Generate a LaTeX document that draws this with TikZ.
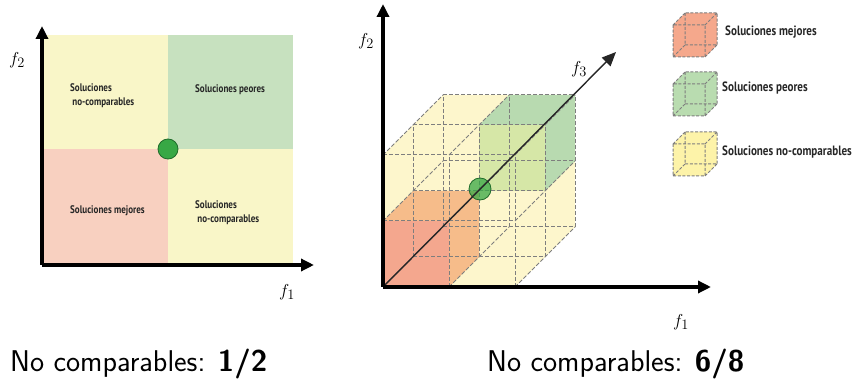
\documentclass[tikz,border=0pt]{standalone}
\usepackage{fontspec}
\newfontfamily\labfont{PT Sans}[FakeStretch=0.82]
\usetikzlibrary{arrows.meta}
\definecolor{cyel}{HTML}{F9F6C8}
\definecolor{cgreen}{HTML}{C7E1BF}
\definecolor{cpink}{HTML}{F8D0C0}
\definecolor{dotfill}{HTML}{38A845}
\definecolor{dotline}{HTML}{1F6B2A}
\definecolor{ryel}{HTML}{FDF6CC}
\definecolor{rred}{HTML}{F4A78E}
\definecolor{rorange}{HTML}{F6BC8A}
\definecolor{rgreen}{HTML}{B8DAB0}
\definecolor{rgreenf}{HTML}{D6E7A7}
\definecolor{gridc}{HTML}{7E7E7E}
\definecolor{lyel}{HTML}{FDF3A9}
\definecolor{lred}{HTML}{F5A88C}
\definecolor{lgreen}{HTML}{B9DCB0}
\definecolor{txt}{HTML}{262626}
\begin{document}
\begin{tikzpicture}[x=1pt,y=-1pt,
  axis/.style={line width=3.6pt,-{Triangle[length=13pt,width=12pt]}},
  thinaxis/.style={line width=1.4pt,draw=black!85,-{Triangle[length=14pt,width=12pt]}},
  grid3/.style={draw=gridc,line width=1pt,dash pattern=on 4pt off 2pt},
  dotstyle/.style={circle,fill=dotfill,draw=dotline,line width=0.8pt,minimum size=20pt,inner sep=0pt},
  flab/.style={font=\fontsize{19}{19}\selectfont,inner sep=0pt},
  qlab/.style={font=\labfont\bfseries\fontsize{11}{14}\selectfont,text=txt,align=left,inner sep=0pt,anchor=west},
  leglab/.style={font=\labfont\bfseries\fontsize{13.5}{15}\selectfont,text=txt,inner sep=0pt,anchor=west},
  bottom/.style={font=\sffamily\fontsize{30}{30}\selectfont,inner sep=0pt,anchor=base west},
  legcube/.pic={
    \fill[#1] (0,12) -- (12,0) -- (44,0) -- (44,32) -- (32,44) -- (0,44) -- cycle;
    \draw[grid3,line width=1pt,dash pattern=on 3pt off 1.6pt]
      (0,12) rectangle (32,44)
      (12,0) rectangle (44,32)
      (0,12) -- (12,0) (32,12) -- (44,0) (32,44) -- (44,32) (0,44) -- (12,32);
  }]
\useasboundingbox (0,0) rectangle (857,379);

% ---------- left panel ----------
\fill[cyel] (42,35) rectangle (293,265);
\fill[cgreen] (168,35) rectangle (293,149);
\fill[cpink] (42,149) rectangle (168,265);
\coordinate (O1) at (42,265);
\coordinate (Y1) at (42,26);
\coordinate (X1) at (314,265);
\draw[axis] (O1) -- (Y1);
\draw[axis] (O1) -- (X1);
\node[dotstyle] (p1) at (168,149) {};
\node[flab] (f2a) at (17,60) {$f_2$};
\node[flab] (f1a) at (287,292) {$f_1$};
\node[qlab] (q1) at (70,96) {Soluciones\\\ no-comparables};
\node[qlab] (q2) at (195,90) {Soluciones peores};
\node[qlab] (q3) at (70,211) {Soluciones mejores};
\node[qlab] (q4) at (195,213) {Soluciones\\\ no-comparables};

% ---------- right panel ----------
% point (i,j,k) -> (383+66i+30k, 287-66j-30k)
\fill[ryel] (383,287) -- (383,155) -- (443,95) -- (575,95) -- (575,227) -- (515,287) -- cycle;
% better solutions cube
\fill[rorange] (383,221) -- (449,221) -- (479,191) -- (413,191) -- cycle;
\fill[rorange] (449,287) -- (479,257) -- (479,191) -- (449,221) -- cycle;
\fill[rred] (383,221) rectangle (449,287);
% worse solutions cube
\fill[rgreen] (479,191) -- (479,125) -- (509,95) -- (575,95) -- (575,161) -- (545,191) -- cycle;
\fill[rgreenf] (479,125) rectangle (545,191);
% dashed wireframe
\foreach \a in {0,1,2}{
  \foreach \b in {0,1,2}{
    \draw[grid3] ({383+30*\b},{287-66*\a-30*\b}) -- ({383+132+30*\b},{287-66*\a-30*\b});
    \draw[grid3] ({383+66*\a+30*\b},{287-30*\b}) -- ({383+66*\a+30*\b},{287-132-30*\b});
    \draw[grid3] ({383+66*\a},{287-66*\b}) -- ({383+66*\a+60},{287-66*\b-60});
  }
}
\coordinate (O2) at (383,287);
\coordinate (Y2) at (383,4);
\coordinate (X2) at (711,287);
\coordinate (Z2) at (616,52);
\node[dotstyle,fill opacity=0.75,minimum size=22pt] (p2) at (480,189) {};
\draw[thinaxis] (O2) -- (Z2);
\draw[axis] (O2) -- (Y2);
\draw[axis] (O2) -- (X2);
\node[flab] (f2b) at (366,41) {$f_2$};
\node[flab] (f3b) at (579,69) {$f_3$};
\node[flab] (f1b) at (681,322) {$f_1$};

% ---------- legend ----------
\pic at (673,13) {legcube=lred};
\pic at (673,72) {legcube=lgreen};
\pic at (673,132) {legcube=lyel};
\node[leglab] (l1) at (725,32) {Soluciones mejores};
\node[leglab] (l2) at (722,88) {Soluciones peores};
\node[leglab] (l3) at (722,152) {Soluciones no-comparables};

% ---------- bottom captions ----------
\node[bottom] (c1) at (10,371) {No comparables: \textbf{1/2}};
\node[bottom] (c2) at (487,371) {No comparables: \textbf{6/8}};
\end{tikzpicture}
\end{document}
